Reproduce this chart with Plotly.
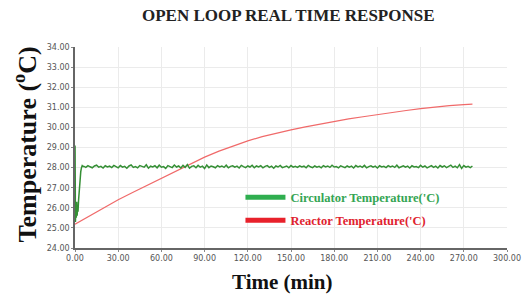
import plotly.graph_objects as go

# ---- data ----
reactor_t = [0, 10, 20, 30, 40, 50, 60, 70, 80, 90, 100, 110, 120, 130, 140,
             150, 160, 170, 180, 190, 200, 210, 220, 230, 240, 250, 260, 270, 276]
reactor_T = [25.18, 25.60, 26.02, 26.40, 26.76, 27.12, 27.48, 27.84, 28.19, 28.52,
             28.82, 29.09, 29.33, 29.54, 29.72, 29.88, 30.03, 30.17, 30.30, 30.42,
             30.53, 30.64, 30.74, 30.84, 30.93, 31.01, 31.08, 31.13, 31.16]

circ_transient_t = [0, 0.05, 0.3, 0.6, 0.9, 1.2, 1.5, 1.8, 2.1, 2.5, 3.0, 3.5, 4.0, 4.5, 5.0, 5.5]
circ_transient_T = [29.1, 29.0, 25.3, 26.2, 25.5, 26.3, 25.6, 26.1, 25.8, 26.4, 27.0, 27.5,
                    27.8, 28.0, 28.1, 28.06]

# steady-state samples, one every 1.5 minutes from t = 6 min
circ_steady_start = 6
circ_steady_step = 1.5
circ_steady_T = [
    28.07, 28.01, 28.10, 28.04, 27.99, 28.08, 28.12, 28.02, 28.06, 27.98,
    28.09, 28.03, 28.07, 28.00, 28.11, 28.05, 27.99, 28.10, 28.02, 28.06,
    27.97, 28.08, 28.13, 28.01, 28.05, 27.99, 28.10, 28.06, 28.02, 28.14,
    27.97, 28.07, 28.03, 28.09, 27.99, 28.12, 28.02, 28.05, 27.96, 28.10,
    28.06, 28.00, 28.13, 28.03, 28.08, 27.98, 28.11, 28.01, 28.15, 27.97,
    28.06, 28.09, 27.99, 28.11, 28.02, 28.07, 27.95, 28.13, 28.00, 28.08,
    28.04, 27.99, 28.10, 28.03, 28.08, 28.01, 28.12, 27.99, 28.06, 28.09,
    28.02, 28.07, 27.98, 28.11, 28.05, 28.00, 28.08, 28.03, 28.12, 27.99,
    28.08, 28.03, 28.09, 27.99, 28.06, 28.10, 28.01, 28.07, 27.97, 28.08,
    28.03, 28.11, 28.00, 28.05, 28.08, 27.99, 28.10, 28.02, 28.06, 28.01,
    28.09, 28.03, 28.07, 27.99, 28.11, 28.04, 28.00, 28.08, 28.02, 28.06,
    27.99, 28.10, 28.03, 28.08, 28.01, 28.12, 28.03, 28.05, 27.99, 28.09,
    28.06, 28.00, 28.08, 28.02, 28.07, 27.98, 28.10, 28.03, 28.08, 28.01,
    28.11, 27.99, 28.05, 28.09, 28.02, 28.07, 27.98, 28.09, 28.03, 28.06,
    28.00, 28.10, 28.03, 28.08, 28.01, 28.12, 27.99, 28.06, 28.09, 28.02,
    28.07, 27.98, 28.09, 28.03, 28.05, 28.00, 28.11, 28.02, 28.08, 27.99,
    28.06, 28.10, 28.01, 28.07, 27.98, 28.10, 28.03, 28.09, 28.00, 28.05,
    28.12, 28.01, 28.07, 27.99, 28.15, 27.96, 28.10, 28.02, 28.06, 28.00,
    28.08,
]

x_ticks = [0, 30, 60, 90, 120, 150, 180, 210, 240, 270, 300]
y_ticks = [24, 25, 26, 27, 28, 29, 30, 31, 32, 33, 34]

circ_t = circ_transient_t + [circ_steady_start + i * circ_steady_step for i in range(len(circ_steady_T))]
circ_T = circ_transient_T + circ_steady_T

fig = go.Figure()
fig.add_trace(go.Scatter(x=reactor_t, y=reactor_T, mode="lines",
                         line=dict(color="#f06a6a", width=1.2), showlegend=False))
fig.add_trace(go.Scatter(x=circ_t, y=circ_T, mode="lines",
                         line=dict(color="#358f35", width=1.5), showlegend=False))

# legend entries
fig.add_trace(go.Scatter(x=[None], y=[None], mode="lines",
                         line=dict(color="#2fae4f", width=5),
                         name="<span style='color:#35a553'><b>Circulator Temperature('C)</b></span>",
                         legend="legend"))
fig.add_trace(go.Scatter(x=[None], y=[None], mode="lines",
                         line=dict(color="#e8212b", width=5),
                         name="<span style='color:#e0222e'><b>Reactor Temperature('C)</b></span>",
                         legend="legend2"))

serif = "Liberation Serif, Times New Roman, serif"
tick_font = dict(family="DejaVu Sans, Verdana, sans-serif", size=8, color="#555")

leg_common = dict(font=dict(family=serif, size=12.5), bgcolor="rgba(0,0,0,0)",
                  xanchor="left", yanchor="middle", borderwidth=0, itemwidth=40)

fig.update_layout(
    width=525, height=295,
    margin=dict(l=75, r=18, t=47, b=47),
    paper_bgcolor="white", plot_bgcolor="white",
    showlegend=True,
    legend=dict(x=0.383, y=0.251, **leg_common),
    legend2=dict(x=0.383, y=0.136, **leg_common),
    xaxis=dict(range=[0, 300], tickvals=x_ticks, tickformat=".2f", automargin=False,
               showgrid=True, gridcolor="#ebebeb", gridwidth=1,
               showline=True, linecolor="#666", linewidth=1.5,
               ticks="outside", ticklen=2, tickcolor="#888",
               tickfont=tick_font, zeroline=False),
    yaxis=dict(range=[24, 34], tickvals=y_ticks, tickformat=".2f", automargin=False,
               showgrid=True, gridcolor="#ebebeb", gridwidth=1,
               showline=True, linecolor="#666", linewidth=1.5,
               ticks="outside", ticklen=2, tickcolor="#888",
               tickfont=tick_font, zeroline=False),
    annotations=[
        dict(text="<b>OPEN LOOP REAL TIME RESPONSE</b>", xref="paper", yref="paper",
             x=0.495, y=1.0, yshift=32, xanchor="center", yanchor="middle",
             showarrow=False, font=dict(family=serif, size=17, color="#222")),
        dict(text="<b>Temperature (<sup>o</sup>C)</b>", xref="paper", yref="paper",
             x=0, xshift=-49, y=0.515, xanchor="center", yanchor="middle", textangle=-90,
             showarrow=False, font=dict(family=serif, size=26, color="#111")),
        dict(text="<b>Time (min)</b>", xref="paper", yref="paper",
             x=0.481, y=0, yshift=-34, xanchor="center", yanchor="middle",
             showarrow=False, font=dict(family=serif, size=21, color="#111")),
    ],
)

# remove the browser's default 8px body margin so the 525x295 figure fills the window
fig.write_html("out.html", config={"displayModeBar": False},
               post_script="document.body.style.margin='0';document.body.style.overflow='hidden';")
